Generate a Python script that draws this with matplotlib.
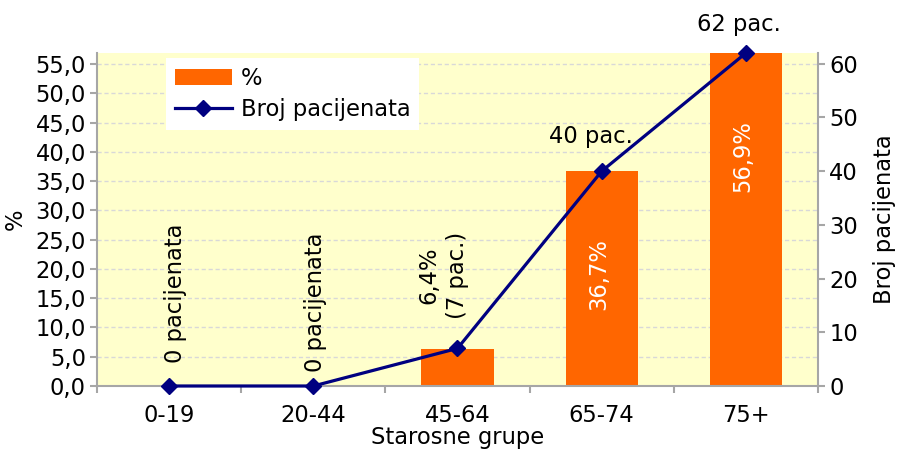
import matplotlib
matplotlib.use("Agg")
import matplotlib.pyplot as plt
from matplotlib.lines import Line2D
from matplotlib.patches import Patch
from matplotlib.ticker import FixedLocator, FuncFormatter

# Age groups, share of patients (%) and patient counts
groups = ["0-19", "20-44", "45-64", "65-74", "75+"]
percent = [0.0, 0.0, 6.4, 36.7, 56.9]
patients = [0, 0, 7, 40, 62]
total_patients = 109

plt.rcParams["font.family"] = ["DejaVu Sans"]
FS = 16.3
ORANGE = "#FF6600"
NAVY = "#000080"
SPINE = "#A6A6A6"

fig = plt.figure(figsize=(8.98, 4.5), dpi=100)
W, H = 898, 450
left, right, top, bottom = 97, 818, 53, 386
ax = fig.add_axes([left / W, 1 - bottom / H, (right - left) / W, (bottom - top) / H])
ax.set_facecolor("#FFFFCC")

x = list(range(len(groups)))
ax.bar(x, percent, width=0.5, color=ORANGE, zorder=2)
ax.set_xlim(-0.5, len(groups) - 0.5)
ax.set_ylim(0, patients[-1] / total_patients * 100)

# left axis: percentages
ax.yaxis.set_major_locator(FixedLocator([v * 5 for v in range(12)]))
ax.yaxis.set_major_formatter(FuncFormatter(lambda v, p: f"{v:.1f}".replace(".", ",")))
ax.grid(axis="y", color="#D8D8D8", linestyle=(0, (3, 2)), linewidth=1.0, zorder=0)
ax.set_axisbelow(True)

ax.set_xticks(x)
ax.set_xticklabels(groups)
ax.set_xticks([i - 0.5 for i in range(len(groups) + 1)], minor=True)
ax.tick_params(axis="x", which="major", length=0, pad=13, labelsize=FS)
ax.tick_params(axis="x", which="minor", length=5, width=1.5, color=SPINE, direction="out")
ax.tick_params(axis="y", length=5, width=1.5, color=SPINE, labelsize=FS, pad=3)

for s in ["top", "right"]:
    ax.spines[s].set_visible(False)
for s in ["left", "bottom"]:
    ax.spines[s].set_color(SPINE)
    ax.spines[s].set_linewidth(1.5)

ax.set_xlabel("Starosne grupe", fontsize=FS, labelpad=-1)

# right axis: patient counts
ax2 = ax.twinx()
ax2.plot(x, patients, color=NAVY, linewidth=2.3, marker="D", markersize=8, zorder=3,
         clip_on=False)
ax2.set_ylim(0, patients[-1])
ax2.set_yticks(range(0, 61, 10))
ax2.tick_params(axis="y", length=5, width=1.5, color=SPINE, labelsize=FS, pad=3)
for s in ["top", "left", "bottom"]:
    ax2.spines[s].set_visible(False)
ax2.spines["right"].set_color(SPINE)
ax2.spines["right"].set_linewidth(1.5)

# axis titles
fig.text(15 / W, 1 - 219 / H, "%", rotation=90, ha="center", va="center", fontsize=FS)
fig.text(885 / W, 1 - 219 / H, "Broj pacijenata", rotation=90, ha="center", va="center",
         fontsize=FS)

# labels for groups without patients
zero_offsets = [(6, 23), (2, 14)]
for i, (dx, dy) in zip([0, 1], zero_offsets):
    ax2.annotate(f"{patients[i]} pacijenata", (x[i], patients[i]), xytext=(dx, dy),
                 textcoords="offset pixels", rotation=90, ha="center", va="bottom",
                 fontsize=FS)

# small bar: label above the bar
ax.annotate(f"{percent[2]:.1f}%".replace(".", ",") + f"\n({patients[2]} pac.)",
            (x[2], percent[2]), xytext=(-14, 30), textcoords="offset pixels",
            rotation=90, ha="center", va="bottom", fontsize=FS, multialignment="center",
            linespacing=1.3)

# large bars: white labels inside
for i in [3, 4]:
    ax.annotate(f"{percent[i]:.1f}%".replace(".", ","), (x[i], percent[i]),
                xytext=(-3, -67), textcoords="offset pixels", rotation=90,
                ha="center", va="top", fontsize=FS, color="white", zorder=4)

# count labels above the line points
for i, (dx, dy) in zip([3, 4], [(-11, 35), (-7, 28)]):
    ax2.annotate(f"{patients[i]} pac.", (x[i], patients[i]), xytext=(dx, dy),
                 textcoords="offset pixels", ha="center", va="center", fontsize=FS,
                 annotation_clip=False)

handles = [Patch(facecolor=ORANGE, edgecolor="none"),
           Line2D([], [], color=NAVY, linewidth=2.3, marker="D", markersize=8)]
leg = ax2.legend(handles, ["%", "Broj pacijenata"], loc="upper left",
                 bbox_to_anchor=((166 - left) / (right - left), 1 - (58 - top) / (bottom - top)),
                 frameon=True, fancybox=False, framealpha=1.0, edgecolor="white",
                 fontsize=FS, borderpad=0.4, handlelength=2.5, handletextpad=0.4,
                 labelspacing=0.35, borderaxespad=0)
leg.get_frame().set_linewidth(0)

fig.savefig("out.png", dpi=100)
